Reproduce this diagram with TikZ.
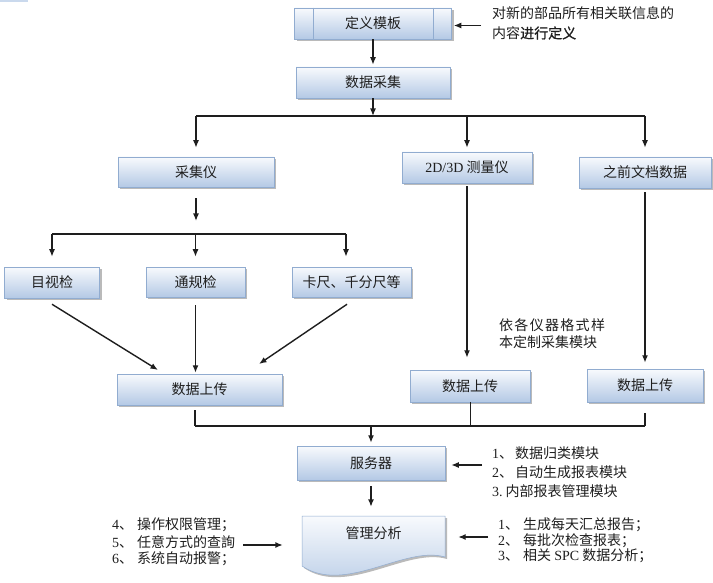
\documentclass[tikz,border=0pt]{standalone}
\usepackage{fontspec}
\setmainfont{Noto Sans CJK SC}
\newfontfamily\lat{Liberation Serif}
\newfontfamily\cjkb[FakeBold=1.2]{Noto Sans CJK SC}
\usetikzlibrary{arrows.meta,shadows}
\definecolor{bfr}{RGB}{145,172,208}
\definecolor{btop}{RGB}{248,250,253}
\definecolor{bbot}{RGB}{180,201,229}
\definecolor{ink}{RGB}{30,30,30}
\tikzset{
  box/.style={draw=bfr, line width=0.5pt, top color=btop, bottom color=bbot,
    drop shadow={shadow xshift=2pt, shadow yshift=-2pt, fill=black!45, opacity=0.6},
    inner sep=0pt, font=\fontsize{14}{16}\selectfont, text=ink},
  txt/.style={anchor=west, inner sep=0pt, font=\fontsize{14}{16}\selectfont, text=ink},
  ln/.style={line width=1.4pt, draw=ink},
  thinln/.style={line width=0.8pt, draw=ink},
  arr/.style={ln, -{Latex[length=7.5pt,width=6pt]}}
}
\begin{document}
\begin{tikzpicture}[x=1pt,y=-1pt]
\useasboundingbox (0,0) rectangle (713,583);
\fill[bbot!70] (0,0) rectangle (28,2);

% boxes
\node[box, minimum width=157pt, minimum height=31pt] (tmpl) at (373,23.5) {定义模板};
\draw[bfr, line width=0.5pt] ([xshift=19pt]tmpl.north west) -- ([xshift=19pt]tmpl.south west);
\draw[bfr, line width=0.5pt] ([xshift=-19pt]tmpl.north east) -- ([xshift=-19pt]tmpl.south east);
\node[box, minimum width=154pt, minimum height=31pt] (collect) at (373,82.5) {数据采集};
\node[box, minimum width=156pt, minimum height=30pt] (cjy) at (196,172) {采集仪};
\node[box, minimum width=130pt, minimum height=31pt] (m23) at (467,167.5) {{\lat 2D/3D} 测量仪};
\node[box, minimum width=132pt, minimum height=31pt] (prev) at (645,172.5) {之前文档数据};
\node[box, minimum width=95pt, minimum height=31pt] (mush) at (52,282.5) {目视检};
\node[box, minimum width=99pt, minimum height=30pt] (tgj) at (195.5,282) {通规检};
\node[box, minimum width=119pt, minimum height=30pt] (kc) at (351.5,282) {卡尺、千分尺等};
\node[box, minimum width=165pt, minimum height=31pt] (up1) at (199.5,389.5) {数据上传};
\node[box, minimum width=120pt, minimum height=32pt] (up2) at (470,386) {数据上传};
\node[box, minimum width=116pt, minimum height=33pt] (up3) at (645,385.5) {数据上传};
\node[box, minimum width=148pt, minimum height=34pt] (srv) at (371,463) {服务器};

% document shape
\node[minimum width=143pt, minimum height=50pt, inner sep=0pt] (mgmt) at (373.5,541) {};
\path[draw=bfr, line width=0.5pt, top color=btop, bottom color=bbot,
  drop shadow={shadow xshift=2pt, shadow yshift=-2pt, fill=black!45, opacity=0.6}]
  (302,516) -- (445,516) -- (445,557) .. controls (405,545) and (345,595) .. (302,566) -- cycle;
\node[inner sep=0pt, font=\fontsize{14}{16}\selectfont, text=ink] (mgmtt) at (373.5,533) {管理分析};

% top part
\draw[arr, shorten >=2pt] (tmpl.south) -- (collect.north);
\coordinate (lt) at (481,25.5);
\draw[arr, shorten >=2pt] (lt) -- (tmpl.east |- lt);
\node[txt] (lab1) at (492,13) {对新的部品所有相关联信息的};
\node[txt] (lab2) at (492,33) {内容{\cjkb 进行定义}};

\coordinate (bA) at (196,116);
\coordinate (bB) at (645,116);
\coordinate (bM) at (373,116);
\draw[arr] (collect.south) -- (bM);
\draw[ln] (bA) -- (bB);
\draw[arr, shorten >=9pt] (bA) -- (cjy.north);
\draw[arr, shorten >=4pt] (bA -| m23.north) -- (m23.north);
\draw[arr, shorten >=9pt] (bB) -- (prev.north);

% branch
\coordinate (cjyend) at (196,221);
\draw[arr] ([yshift=-11pt]cjy.south) -- (cjyend);
\coordinate (cL) at (52,234);
\coordinate (cR) at (346,234);
\draw[ln] (cL) -- (cR);
\draw[arr, shorten >=10pt] (cL) -- (mush.north);
\draw[arr, shorten >=10pt] (cL -| tgj.north) -- (tgj.north);
\draw[arr, shorten >=10pt] (cR) -- (cR |- kc.north);

% to upload 1
\coordinate (d1) at (158,370);
\coordinate (d3) at (259,364);
\draw[arr] ([yshift=-6pt]mush.south) -- (d1);
\draw[arr, shorten <=8pt, shorten >=1pt] (tgj.south) -- (tgj.south |- up1.north);
\draw[arr] ([xshift=-4.5pt,yshift=-7pt]kc.south) -- (d3);

\draw[arr, shorten <=3pt, shorten >=12pt] (m23.south) -- (m23.south |- up2.north);
\draw[arr, shorten <=4pt, shorten >=6pt] (prev.south) -- (prev.south |- up3.north);
\node[txt] (mid1) at (499,325) {依\hspace{1.3pt}各\hspace{1.3pt}仪\hspace{1.3pt}器\hspace{1.3pt}格\hspace{1.3pt}式\hspace{1.3pt}样};
\node[txt] (mid2) at (499,342) {本定制采集模块};

% bottom bus
\coordinate (eL) at (195,426);
\coordinate (eR) at (645,426);
\coordinate (eM) at (371,426);
\draw[ln] (eL) -- (eR);
\draw[ln, shorten <=5pt] (up1.south -| eL) -- (eL);
\draw[thinln] (up2.south) -- (up2.south |- eL);
\draw[ln, shorten <=11pt] (up3.south) -- (eR);
\draw[arr, shorten >=3pt] (eM) -- (srv.north);

% server labels
\coordinate (ls) at (482,465);
\draw[arr, shorten >=6pt] (ls) -- (srv.east |- ls);
\node[txt] (s1) at (492,453) {{\lat 1}、\hspace{2pt}数据归类模块};
\node[txt] (s2) at (492,472) {{\lat 2}、\hspace{2pt}自动生成报表模块};
\node[txt] (s3) at (492,491) {{\lat 3.}\hspace{3pt}内部报表管理模块};

\draw[arr, shorten <=6pt, shorten >=9pt] (srv.south) -- (srv.south |- mgmt.north);

% management labels
\coordinate (ll) at (243,545);
\draw[arr, shorten >=19pt] (ll) -- (mgmt.west |- ll);
\coordinate (lr) at (488,537);
\draw[arr, shorten >=13pt] (lr) -- (mgmt.east |- lr);
\node[txt] (r1) at (498,525) {{\lat 1}、\hspace{4pt}生成每天汇总报告；};
\node[txt] (r2) at (498,540.5) {{\lat 2}、\hspace{4pt}每批次检查报表；};
\node[txt] (r3) at (498,556) {{\lat 3}、\hspace{4pt}相关 {\lat SPC} 数据分析；};
\node[txt] (l1) at (112,525) {{\lat 4}、\hspace{4pt}操作权限管理；};
\node[txt] (l2) at (112,542) {{\lat 5}、\hspace{4pt}任意方式的查詢};
\node[txt] (l3) at (112,559) {{\lat 6}、\hspace{4pt}系统自动报警；};
\end{tikzpicture}
\end{document}
